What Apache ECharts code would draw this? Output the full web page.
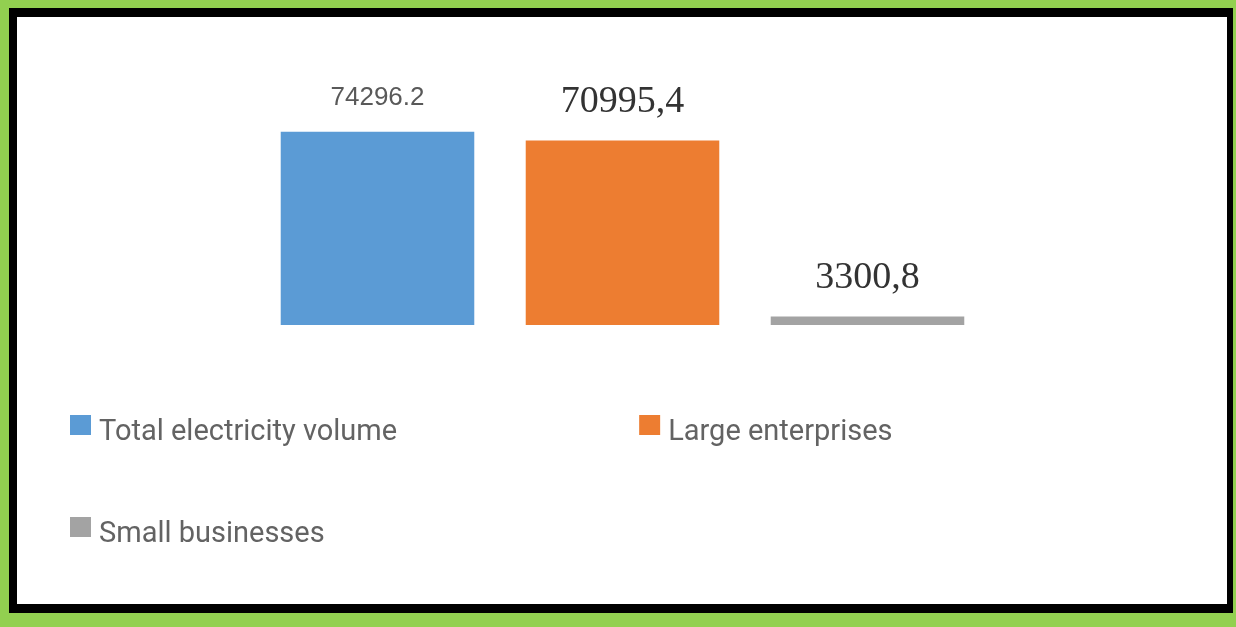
<!DOCTYPE html>
<html>
<head>
<meta charset="utf-8">
<script src="https://cdn.jsdelivr.net/npm/echarts@6/dist/echarts.min.js"></script>
<style>
  html, body { margin: 0; padding: 0; width: 1236px; height: 627px; background: #92d050; overflow: hidden; }
  #frame { position: absolute; left: 9px; top: 8px; width: 1224px; height: 605px; background: #000; }
  #inner { position: absolute; left: 17px; top: 17px; width: 1210px; height: 587px; background: #fff; }
  #chart { position: absolute; left: 0; top: 0; width: 1236px; height: 627px; }
</style>
</head>
<body>
<div id="frame"></div>
<div id="inner"></div>
<div id="chart"></div>
<script>
const categories = ['Total electricity volume', 'Large enterprises', 'Small businesses'];
const values = [74296.2, 70995.4, 3300.8];
const labelTexts = ['74296.2', '70995,4', '3300,8'];
const colors = ['#5b9bd5', '#ed7d31', '#a3a3a3'];

const labelStyles = [
  { fontFamily: '"Liberation Sans", Arial, sans-serif', fontSize: 26, color: '#595959', distance: 21 },
  { fontFamily: '"Liberation Serif", serif', fontSize: 38, color: '#333333', distance: 19 },
  { fontFamily: '"Liberation Serif", serif', fontSize: 38, color: '#333333', distance: 19 }
];

const series = categories.map((name, i) => ({
  name: name,
  type: 'bar',
  stack: 'all',
  barCategoryGap: '21%',
  data: categories.map((c, j) => (j === i ? values[i] : '-')),
  itemStyle: { color: colors[i] },
  label: Object.assign({
    show: true,
    position: 'top',
    formatter: () => labelTexts[i]
  }, labelStyles[i])
}));

const legendText = {
  rich: {
    t: { fontFamily: 'Roboto, sans-serif', fontSize: 29, color: '#636363', padding: [16, 0, 0, 3] }
  }
};
const legendFormatter = name => '{t|' + name + '}';

const chart = echarts.init(document.getElementById('chart'));
chart.setOption({
  animation: false,
  backgroundColor: 'transparent',
  grid: { left: 255, width: 735, top: 117, bottom: 302 },
  xAxis: { type: 'category', data: categories, show: false },
  yAxis: { type: 'value', min: 0, max: 80000, show: false },
  legend: [
    { data: [categories[0], categories[1]], left: 70, top: 415, padding: 0, itemGap: 242,
      icon: 'rect', itemWidth: 21, itemHeight: 20, formatter: legendFormatter, textStyle: legendText },
    { data: [categories[2]], left: 70, top: 517, padding: 0,
      icon: 'rect', itemWidth: 21, itemHeight: 20, formatter: legendFormatter, textStyle: legendText }
  ],
  series: series
});
</script>
</body>
</html>
